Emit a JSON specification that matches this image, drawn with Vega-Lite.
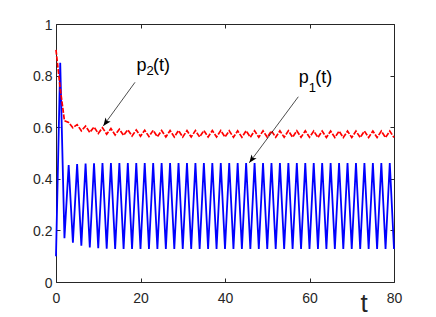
{
  "$schema": "https://vega.github.io/schema/vega-lite/v6.json",
  "width": 338,
  "height": 258,
  "autosize": {"type": "none"},
  "padding": {"left": 56, "top": 24, "right": 42, "bottom": 35},
  "background": "white",
  "config": {
    "view": {"stroke": "#262626", "strokeWidth": 1},
    "axis": {"grid": false, "domain": false, "labelFont": "Liberation Sans", "labelFontSize": 14, "labelColor": "#262626", "tickColor": "#262626", "tickWidth": 1, "labelFlush": false, "labelOverlap": false}
  },
  "datasets": {
    "p1": [
      {"t":0,"v":0.1},{"t":1,"v":0.85},{"t":2,"v":0.17},{"t":3,"v":0.453},{"t":4,"v":0.152},{"t":5,"v":0.457},{"t":6,"v":0.141},{"t":7,"v":0.459},{"t":8,"v":0.134},{"t":9,"v":0.46},
      {"t":10,"v":0.131},{"t":11,"v":0.461},{"t":12,"v":0.129},{"t":13,"v":0.461},{"t":14,"v":0.128},{"t":15,"v":0.461},{"t":16,"v":0.128},{"t":17,"v":0.461},{"t":18,"v":0.128},{"t":19,"v":0.461},
      {"t":20,"v":0.128},{"t":21,"v":0.461},{"t":22,"v":0.128},{"t":23,"v":0.461},{"t":24,"v":0.128},{"t":25,"v":0.461},{"t":26,"v":0.128},{"t":27,"v":0.461},{"t":28,"v":0.128},{"t":29,"v":0.461},
      {"t":30,"v":0.128},{"t":31,"v":0.461},{"t":32,"v":0.128},{"t":33,"v":0.461},{"t":34,"v":0.128},{"t":35,"v":0.461},{"t":36,"v":0.128},{"t":37,"v":0.461},{"t":38,"v":0.128},{"t":39,"v":0.461},
      {"t":40,"v":0.128},{"t":41,"v":0.461},{"t":42,"v":0.128},{"t":43,"v":0.461},{"t":44,"v":0.128},{"t":45,"v":0.461},{"t":46,"v":0.128},{"t":47,"v":0.461},{"t":48,"v":0.128},{"t":49,"v":0.461},
      {"t":50,"v":0.128},{"t":51,"v":0.461},{"t":52,"v":0.128},{"t":53,"v":0.461},{"t":54,"v":0.128},{"t":55,"v":0.461},{"t":56,"v":0.128},{"t":57,"v":0.461},{"t":58,"v":0.128},{"t":59,"v":0.461},
      {"t":60,"v":0.128},{"t":61,"v":0.461},{"t":62,"v":0.128},{"t":63,"v":0.461},{"t":64,"v":0.128},{"t":65,"v":0.461},{"t":66,"v":0.128},{"t":67,"v":0.461},{"t":68,"v":0.128},{"t":69,"v":0.461},
      {"t":70,"v":0.128},{"t":71,"v":0.461},{"t":72,"v":0.128},{"t":73,"v":0.461},{"t":74,"v":0.128},{"t":75,"v":0.461},{"t":76,"v":0.128},{"t":77,"v":0.461},{"t":78,"v":0.128},{"t":79,"v":0.461},
      {"t":80,"v":0.128}
    ],
    "p2": [
      {"t":0,"v":0.9},{"t":1,"v":0.75},{"t":2,"v":0.625},{"t":3,"v":0.618},{"t":4,"v":0.598},{"t":5,"v":0.61},{"t":6,"v":0.586},{"t":7,"v":0.604},{"t":8,"v":0.58},{"t":9,"v":0.601},
      {"t":10,"v":0.576},{"t":11,"v":0.598},{"t":12,"v":0.573},{"t":13,"v":0.595},{"t":14,"v":0.57},{"t":15,"v":0.592},{"t":16,"v":0.568},{"t":17,"v":0.59},{"t":18,"v":0.566},{"t":19,"v":0.589},
      {"t":20,"v":0.565},{"t":21,"v":0.588},{"t":22,"v":0.564},{"t":23,"v":0.588},{"t":24,"v":0.563},{"t":25,"v":0.587},{"t":26,"v":0.562},{"t":27,"v":0.587},{"t":28,"v":0.562},{"t":29,"v":0.587},
      {"t":30,"v":0.562},{"t":31,"v":0.587},{"t":32,"v":0.562},{"t":33,"v":0.587},{"t":34,"v":0.562},{"t":35,"v":0.587},{"t":36,"v":0.562},{"t":37,"v":0.587},{"t":38,"v":0.562},{"t":39,"v":0.587},
      {"t":40,"v":0.562},{"t":41,"v":0.586},{"t":42,"v":0.561},{"t":43,"v":0.586},{"t":44,"v":0.561},{"t":45,"v":0.586},{"t":46,"v":0.561},{"t":47,"v":0.586},{"t":48,"v":0.561},{"t":49,"v":0.586},
      {"t":50,"v":0.561},{"t":51,"v":0.586},{"t":52,"v":0.561},{"t":53,"v":0.586},{"t":54,"v":0.561},{"t":55,"v":0.586},{"t":56,"v":0.561},{"t":57,"v":0.586},{"t":58,"v":0.561},{"t":59,"v":0.586},
      {"t":60,"v":0.561},{"t":61,"v":0.585},{"t":62,"v":0.56},{"t":63,"v":0.585},{"t":64,"v":0.56},{"t":65,"v":0.585},{"t":66,"v":0.56},{"t":67,"v":0.585},{"t":68,"v":0.56},{"t":69,"v":0.585},
      {"t":70,"v":0.56},{"t":71,"v":0.585},{"t":72,"v":0.56},{"t":73,"v":0.585},{"t":74,"v":0.56},{"t":75,"v":0.585},{"t":76,"v":0.56},{"t":77,"v":0.585},{"t":78,"v":0.56},{"t":79,"v":0.585},
      {"t":80,"v":0.56}
    ],
    "arrows": [
      {"name":"p2","t1":18.7,"v1":0.774,"t2":11.2,"v2":0.605},
      {"name":"p1","t1":57.35,"v1":0.718,"t2":45.75,"v2":0.462}
    ],
    "labels": [
      {"name":"p2","t":19.05,"v":0.819,"main":"p","sub":"2","tail":"(t)"},
      {"name":"p1","t":57.47,"v":0.771,"main":"p","sub":"1","tail":"(t)"}
    ]
  },
  "layer": [
    {
      "data": {"name": "p1"},
      "mark": {"type": "line", "color": "#0000ff", "strokeWidth": 1.8},
      "encoding": {
        "x": {"field": "t", "type": "quantitative", "scale": {"domain": [0, 80], "nice": false},
          "axis": {"orient": "bottom", "values": [0, 20, 40, 60, 80], "ticks": false, "labelPadding": 9, "format": "d",
            "title": "t", "titleFont": "Liberation Sans", "titleFontSize": 26, "titleFontWeight": "normal", "titleColor": "#262626",
            "titleX": 307.5, "titleY": 29, "titleAlign": "center", "titleBaseline": "alphabetic"}},
        "y": {"field": "v", "type": "quantitative", "scale": {"domain": [0, 1], "nice": false},
          "axis": {"orient": "left", "values": [0, 0.2, 0.4, 0.6, 0.8, 1], "ticks": false, "labelPadding": 4, "labelOffset": 1, "format": "~g", "title": null}}
      }
    },
    {
      "data": {"name": "p2"},
      "mark": {"type": "line", "color": "#ff0000", "strokeWidth": 1.7, "strokeDash": [5, 1.5]},
      "encoding": {
        "x": {"field": "t", "type": "quantitative",
          "axis": {"orient": "bottom", "offset": -4, "tickSize": 4, "labels": false, "values": [0, 20, 40, 60, 80], "title": null}},
        "y": {"field": "v", "type": "quantitative",
          "axis": {"orient": "left", "offset": -4, "tickSize": 4, "labels": false, "values": [0, 0.2, 0.4, 0.6, 0.8, 1], "title": null}}
      }
    },
    {
      "data": {"name": "arrows"},
      "mark": {"type": "rule", "color": "#000000", "strokeWidth": 0.7},
      "encoding": {
        "x": {"field": "t1", "type": "quantitative",
          "axis": {"orient": "top", "offset": -4, "tickSize": 4, "labels": false, "values": [0, 20, 40, 60, 80], "title": null}},
        "x2": {"field": "t2"},
        "y": {"field": "v1", "type": "quantitative",
          "axis": {"orient": "right", "offset": -4, "tickSize": 4, "labels": false, "values": [0, 0.2, 0.4, 0.6, 0.8, 1], "title": null}},
        "y2": {"field": "v2"}
      }
    },
    {
      "data": {"name": "arrows"},
      "mark": {"type": "point", "shape": "M0,0L0.4,1L0,0.75L-0.4,1Z", "size": 256, "angle": 216.5, "filled": true, "color": "#000000", "opacity": 1},
      "encoding": {
        "x": {"field": "t2", "type": "quantitative", "axis": null},
        "y": {"field": "v2", "type": "quantitative", "axis": null}
      }
    },
    {
      "data": {"name": "labels"},
      "mark": {"type": "text", "align": "left", "baseline": "alphabetic", "font": "Liberation Sans", "fontSize": 18, "color": "#000000"},
      "encoding": {
        "x": {"field": "t", "type": "quantitative", "axis": null},
        "y": {"field": "v", "type": "quantitative", "axis": null},
        "text": {"field": "main"}
      }
    },
    {
      "data": {"name": "labels"},
      "mark": {"type": "text", "align": "left", "baseline": "alphabetic", "font": "Liberation Sans", "fontSize": 18, "color": "#000000", "dx": 16.5},
      "encoding": {
        "x": {"field": "t", "type": "quantitative", "axis": null},
        "y": {"field": "v", "type": "quantitative", "axis": null},
        "text": {"field": "tail"}
      }
    },
    {
      "data": {"name": "labels"},
      "transform": [{"filter": "datum.name == 'p2'"}],
      "mark": {"type": "text", "align": "left", "baseline": "alphabetic", "font": "Liberation Sans", "fontSize": 13, "color": "#000000", "dx": 10, "dy": 4.5},
      "encoding": {
        "x": {"field": "t", "type": "quantitative", "axis": null},
        "y": {"field": "v", "type": "quantitative", "axis": null},
        "text": {"field": "sub"}
      }
    },
    {
      "data": {"name": "labels"},
      "transform": [{"filter": "datum.name == 'p1'"}],
      "mark": {"type": "text", "align": "left", "baseline": "alphabetic", "font": "Liberation Sans", "fontSize": 13, "color": "#000000", "dx": 10, "dy": 9},
      "encoding": {
        "x": {"field": "t", "type": "quantitative", "axis": null},
        "y": {"field": "v", "type": "quantitative", "axis": null},
        "text": {"field": "sub"}
      }
    }
  ],
  "resolve": {"axis": {"x": "independent", "y": "independent"}}
}
